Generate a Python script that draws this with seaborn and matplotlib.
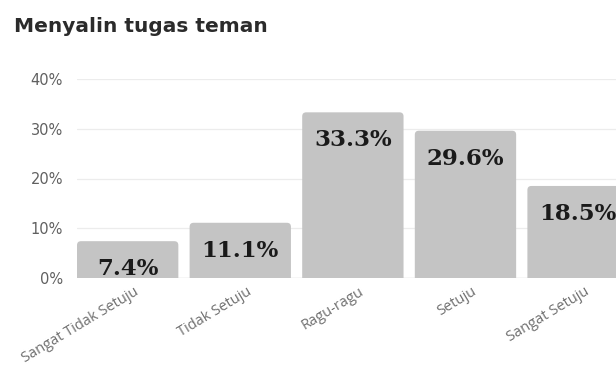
import matplotlib
matplotlib.use("Agg")
import matplotlib.pyplot as plt
import matplotlib.transforms as mtransforms
from matplotlib.patches import FancyBboxPatch
from matplotlib.ticker import FuncFormatter, FixedLocator
import pandas as pd
import seaborn as sns

# Survey responses for one statement
title = "Menyalin tugas teman"
categories = ["Sangat Tidak Setuju", "Tidak Setuju", "Ragu-ragu", "Setuju", "Sangat Setuju"]
percentages = [7.4, 11.1, 33.3, 29.6, 18.5]
y_ticks = [0, 10, 20, 30, 40]

sns.set_theme(style="white")
plt.rcParams["font.family"] = ["DejaVu Sans"]

df = pd.DataFrame({"kategori": categories, "persen": percentages})

W, H = 616, 367
fig = plt.figure(figsize=(W / 100, H / 100), dpi=100)
# axes run past the right edge so the last bar is cut off
ax = fig.add_axes([77 / W, 89 / H, 563 / W, 199 / H])

bar_color = "#c4c4c4"
sns.barplot(data=df, x="kategori", y="persen", order=categories, color=bar_color,
            saturation=1, width=0.9, ax=ax)

ax.set_xlim(-0.45, 4.55)
ax.set_ylim(0, 40)

# swap the square bars for ones with softly rounded corners
ax_w_px = 563
ax_h_px = 199
dx = 5.0 / ax_w_px
dy = 40.0 / ax_h_px
r_px = 4
for p in list(ax.patches):
    x0, w, h = p.get_x(), p.get_width(), p.get_height()
    rounded = FancyBboxPatch((x0, -r_px * dy), w, h + r_px * dy,
                             boxstyle=f"round,pad=0,rounding_size={r_px * dx}",
                             mutation_aspect=dy / dx,
                             facecolor=bar_color, edgecolor="none", zorder=2)
    ax.add_patch(rounded)
    p.set_visible(False)

# value labels inside the top of each bar
for i, v in enumerate(percentages):
    ax.annotate(f"{v:.1f}%", xy=(i, v), xytext=(0, -28), textcoords="offset pixels",
                ha="center", va="center", fontsize=16.5, fontweight="bold",
                family="DejaVu Serif", color="#1a1a1a", zorder=3)

# axes styling
for s in ax.spines.values():
    s.set_visible(False)
ax.yaxis.set_major_locator(FixedLocator(y_ticks))
ax.yaxis.set_major_formatter(FuncFormatter(lambda v, _: f"{int(v)}%"))
ax.grid(axis="y", color="#ececec", linewidth=0.9, zorder=0)
ax.set_axisbelow(True)
ax.axhline(0, color="#dedede", linewidth=1, zorder=1)
ax.tick_params(axis="y", length=0, pad=10, labelsize=10.5, labelcolor="#606060")
ax.tick_params(axis="x", length=0, pad=9, labelsize=10.5, labelcolor="#707070")
ax.set_xlabel("")
ax.set_ylabel("")

offset = mtransforms.ScaledTranslation(10 / 100, 0, fig.dpi_scale_trans)
for lab in ax.get_xticklabels():
    lab.set_rotation(31)
    lab.set_ha("right")
    lab.set_va("center")
    lab.set_rotation_mode("anchor")
    lab.set_family(["Open Sans", "DejaVu Sans"])
    lab.set_transform(lab.get_transform() + offset)

fig.text(14 / W, 1 - 32 / H, title, ha="left", va="baseline", fontsize=14.5,
         fontweight="bold", color="#2b2b2b")

fig.savefig("out.png", dpi=100, facecolor="white")
